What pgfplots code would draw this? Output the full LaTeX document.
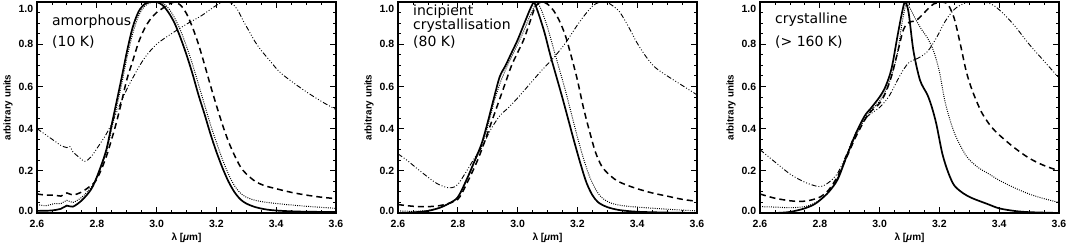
\documentclass[border=0pt]{standalone}
\usepackage{fontspec}
\setmainfont{Liberation Sans}
\newfontfamily\annfont{DejaVu Sans}
\usepackage{pgfplots}
\pgfplotsset{compat=1.18}
\newcommand{\yl}[2]{\raisebox{#1}[0pt][0pt]{#2}}
\pgfplotsset{
  panel/.style={
    scale only axis, width=299pt, height=211pt,
    anchor=south west,
    xmin=2.6, xmax=3.6, ymin=0, ymax=1.0,
    xtick={2.6,2.8,3.0,3.2,3.4,3.6},
    xticklabels={2.6,2.8,3.0,3.2,3.4,3.6},
    ytick={0,0.2,0.4,0.6,0.8,1.0},
    yticklabels={\yl{-1.8pt}{0.0},\yl{-3.7pt}{0.2},\yl{-3.7pt}{0.4},\yl{-3.7pt}{0.6},\yl{-3.7pt}{0.8},\yl{-10.5pt}{1.0}},
    minor x tick num=3, minor y tick num=3,
    xtick pos=both, ytick pos=both,
    tick align=inside,
    major tick length=6pt, minor tick length=3pt,
    every tick/.style={black, line width=0.8pt},
    axis line style={line width=1.4pt},
    ticklabel style={font=\fontsize{10.5}{11}\selectfont\bfseries},
    xticklabel style={yshift=-4pt},
    yticklabel style={xshift=-0.3pt},
    xlabel={λ [\textit{μ}m]},
    xlabel style={at={(axis description cs:0.5,-0.118)}, anchor=center, font=\fontsize{10}{11}\selectfont\bfseries},
    ylabel={arbitrary units},
    ylabel style={at={(axis description cs:-0.097,0.5)}, anchor=center, font=\fontsize{9.8}{10}\selectfont\bfseries},
    clip=true,
  },
  s1/.style={black, line width=1.7pt, smooth, tension=0.5},
  s2/.style={black, line width=1pt, dash pattern=on 0.9pt off 1.3pt, smooth, tension=0.5},
  s3/.style={black, line width=1.5pt, dash pattern=on 6pt off 4pt, smooth, tension=0.5},
  s4/.style={black, line width=0.9pt, dash pattern=on 5pt off 2pt on 0.9pt off 2pt on 0.9pt off 2pt on 0.9pt off 2pt, smooth, tension=0.5},
}
\tikzset{ann/.style={anchor=base west, font=\annfont\fontsize{14}{16}\selectfont, inner sep=0pt}}
\begin{document}
\begin{tikzpicture}[x=1pt,y=1pt]
\useasboundingbox (0,0) rectangle (1067,246);
% ---------------- Panel 1: amorphous
\begin{axis}[panel, at={(37pt,33pt)}]
\addplot[s1] table[row sep=\\]{
2.60 0.010\\ 2.65 0.012\\ 2.68 0.020\\ 2.70 0.035\\ 2.72 0.030\\ 2.75 0.060\\ 2.78 0.110\\ 2.80 0.170\\
2.83 0.290\\ 2.85 0.420\\ 2.88 0.620\\ 2.90 0.760\\ 2.92 0.880\\ 2.94 0.955\\ 2.96 0.990\\ 2.98 1.000\\
3.00 1.000\\ 3.02 0.985\\ 3.04 0.950\\ 3.06 0.900\\ 3.08 0.830\\ 3.10 0.750\\ 3.12 0.660\\ 3.14 0.560\\
3.16 0.470\\ 3.18 0.375\\ 3.20 0.290\\ 3.22 0.215\\ 3.24 0.150\\ 3.26 0.100\\ 3.28 0.065\\ 3.30 0.045\\
3.33 0.028\\ 3.37 0.016\\ 3.42 0.010\\ 3.50 0.006\\ 3.60 0.005\\
};
\addplot[s2] table[row sep=\\]{
2.60 0.040\\ 2.63 0.035\\ 2.66 0.045\\ 2.68 0.045\\ 2.70 0.060\\ 2.72 0.050\\ 2.75 0.075\\ 2.78 0.120\\
2.80 0.170\\ 2.83 0.280\\ 2.85 0.400\\ 2.88 0.590\\ 2.90 0.730\\ 2.92 0.850\\ 2.94 0.935\\ 2.96 0.980\\
2.98 0.997\\ 3.00 1.000\\ 3.02 0.995\\ 3.04 0.970\\ 3.06 0.925\\ 3.08 0.865\\ 3.10 0.790\\ 3.12 0.705\\
3.14 0.610\\ 3.16 0.515\\ 3.18 0.420\\ 3.20 0.335\\ 3.22 0.255\\ 3.24 0.185\\ 3.26 0.130\\ 3.28 0.095\\
3.30 0.075\\ 3.33 0.060\\ 3.37 0.050\\ 3.42 0.042\\ 3.50 0.032\\ 3.60 0.022\\
};
\addplot[s3] table[row sep=\\]{
2.60 0.090\\ 2.63 0.085\\ 2.66 0.085\\ 2.68 0.080\\ 2.70 0.095\\ 2.72 0.085\\ 2.75 0.100\\ 2.78 0.130\\
2.80 0.160\\ 2.83 0.260\\ 2.86 0.400\\ 2.88 0.510\\ 2.90 0.630\\ 2.92 0.720\\ 2.94 0.810\\ 2.96 0.875\\
2.98 0.920\\ 3.00 0.950\\ 3.02 0.970\\ 3.04 0.988\\ 3.06 1.000\\ 3.08 0.985\\ 3.10 0.945\\ 3.12 0.880\\
3.14 0.800\\ 3.16 0.705\\ 3.18 0.605\\ 3.20 0.510\\ 3.22 0.420\\ 3.24 0.340\\ 3.26 0.275\\ 3.28 0.220\\
3.30 0.185\\ 3.33 0.150\\ 3.36 0.130\\ 3.40 0.115\\ 3.45 0.098\\ 3.50 0.085\\ 3.55 0.075\\ 3.60 0.068\\
};
\addplot[s4] table[row sep=\\]{
2.60 0.400\\ 2.63 0.370\\ 2.66 0.340\\ 2.68 0.320\\ 2.70 0.310\\ 2.71 0.315\\ 2.72 0.290\\ 2.74 0.265\\
2.76 0.245\\ 2.78 0.265\\ 2.80 0.305\\ 2.83 0.370\\ 2.85 0.425\\ 2.87 0.490\\ 2.90 0.585\\ 2.93 0.665\\
2.96 0.735\\ 3.00 0.800\\ 3.05 0.850\\ 3.10 0.895\\ 3.15 0.935\\ 3.18 0.965\\ 3.21 0.993\\ 3.23 1.000\\
3.25 0.995\\ 3.27 0.965\\ 3.29 0.910\\ 3.31 0.860\\ 3.33 0.810\\ 3.35 0.770\\ 3.38 0.720\\ 3.41 0.670\\
3.45 0.625\\ 3.50 0.575\\ 3.55 0.530\\ 3.60 0.490\\
};
\node[ann] at (rel axis cs:0.05,0.89) {amorphous};
\node[ann] at (rel axis cs:0.05,0.787) {(10 K)};
\end{axis}
% ---------------- Panel 2: incipient crystallisation
\begin{axis}[panel, at={(398pt,33pt)}]
\addplot[s1] table[row sep=\\]{
2.60 0.000\\ 2.65 0.003\\ 2.70 0.010\\ 2.74 0.025\\ 2.77 0.045\\ 2.80 0.075\\ 2.83 0.160\\ 2.86 0.260\\
2.88 0.330\\ 2.90 0.430\\ 2.92 0.540\\ 2.94 0.645\\ 2.96 0.700\\ 2.98 0.760\\ 3.00 0.820\\ 3.02 0.890\\
3.04 0.960\\ 3.05 0.990\\ 3.055 1.000\\ 3.07 0.945\\ 3.09 0.855\\ 3.11 0.745\\ 3.13 0.645\\ 3.15 0.545\\
3.17 0.440\\ 3.19 0.335\\ 3.21 0.235\\ 3.23 0.145\\ 3.25 0.085\\ 3.27 0.050\\ 3.30 0.028\\ 3.34 0.014\\
3.40 0.006\\ 3.50 0.002\\ 3.60 0.000\\
};
\addplot[s2] table[row sep=\\]{
2.60 0.010\\ 2.65 0.008\\ 2.70 0.012\\ 2.74 0.025\\ 2.77 0.045\\ 2.80 0.075\\ 2.83 0.155\\ 2.86 0.255\\
2.88 0.320\\ 2.90 0.410\\ 2.92 0.520\\ 2.94 0.610\\ 2.96 0.680\\ 2.98 0.740\\ 3.00 0.800\\ 3.02 0.860\\
3.04 0.930\\ 3.06 0.990\\ 3.065 1.000\\ 3.08 0.960\\ 3.10 0.880\\ 3.12 0.780\\ 3.14 0.680\\ 3.16 0.580\\
3.18 0.470\\ 3.20 0.360\\ 3.22 0.260\\ 3.24 0.175\\ 3.26 0.115\\ 3.28 0.075\\ 3.31 0.048\\ 3.35 0.035\\
3.40 0.028\\ 3.50 0.018\\ 3.60 0.010\\
};
\addplot[s3] table[row sep=\\]{
2.60 0.040\\ 2.65 0.032\\ 2.70 0.030\\ 2.75 0.038\\ 2.80 0.065\\ 2.83 0.140\\ 2.86 0.230\\ 2.88 0.300\\
2.90 0.380\\ 2.92 0.460\\ 2.94 0.540\\ 2.96 0.620\\ 2.98 0.700\\ 3.00 0.760\\ 3.02 0.820\\ 3.04 0.900\\
3.06 0.980\\ 3.08 1.000\\ 3.10 0.990\\ 3.12 0.960\\ 3.14 0.910\\ 3.16 0.840\\ 3.18 0.740\\ 3.20 0.630\\
3.22 0.500\\ 3.24 0.390\\ 3.26 0.290\\ 3.28 0.225\\ 3.30 0.190\\ 3.33 0.155\\ 3.36 0.135\\ 3.40 0.115\\
3.45 0.095\\ 3.50 0.080\\ 3.55 0.065\\ 3.60 0.055\\
};
\addplot[s4] table[row sep=\\]{
2.60 0.280\\ 2.63 0.250\\ 2.66 0.215\\ 2.70 0.170\\ 2.73 0.140\\ 2.76 0.122\\ 2.78 0.120\\ 2.80 0.135\\
2.83 0.200\\ 2.86 0.270\\ 2.88 0.310\\ 2.91 0.395\\ 2.94 0.460\\ 2.97 0.500\\ 3.00 0.545\\ 3.04 0.610\\
3.08 0.675\\ 3.12 0.735\\ 3.16 0.805\\ 3.19 0.870\\ 3.22 0.930\\ 3.25 0.980\\ 3.27 0.997\\ 3.29 1.000\\
3.31 0.990\\ 3.34 0.955\\ 3.37 0.885\\ 3.40 0.805\\ 3.43 0.740\\ 3.46 0.690\\ 3.50 0.650\\ 3.55 0.605\\
3.60 0.560\\
};
\node[ann] at (rel axis cs:0.05,0.938) {incipient};
\node[ann] at (rel axis cs:0.05,0.872) {crystallisation};
\node[ann] at (rel axis cs:0.05,0.787) {(80 K)};
\end{axis}
% ---------------- Panel 3: crystalline
\begin{axis}[panel, at={(760pt,33pt)}]
\addplot[s1] table[row sep=\\]{
2.60 0.000\\ 2.65 0.000\\ 2.70 0.005\\ 2.75 0.022\\ 2.78 0.040\\ 2.80 0.060\\ 2.83 0.100\\ 2.86 0.160\\
2.89 0.270\\ 2.92 0.375\\ 2.95 0.460\\ 2.97 0.495\\ 3.00 0.550\\ 3.02 0.600\\ 3.04 0.685\\ 3.06 0.840\\
3.075 0.950\\ 3.085 1.000\\ 3.097 0.950\\ 3.113 0.770\\ 3.135 0.630\\ 3.16 0.560\\ 3.175 0.500\\ 3.19 0.420\\
3.21 0.280\\ 3.23 0.190\\ 3.25 0.130\\ 3.28 0.093\\ 3.31 0.070\\ 3.36 0.043\\ 3.40 0.022\\ 3.45 0.010\\
3.50 0.004\\ 3.60 0.000\\
};
\addplot[s2] table[row sep=\\]{
2.60 0.030\\ 2.65 0.028\\ 2.70 0.025\\ 2.75 0.030\\ 2.78 0.045\\ 2.80 0.062\\ 2.83 0.100\\ 2.86 0.170\\
2.89 0.270\\ 2.92 0.365\\ 2.95 0.445\\ 2.97 0.485\\ 3.00 0.530\\ 3.02 0.580\\ 3.04 0.650\\ 3.06 0.760\\
3.075 0.900\\ 3.09 1.000\\ 3.10 0.975\\ 3.12 0.920\\ 3.14 0.870\\ 3.16 0.830\\ 3.18 0.770\\ 3.20 0.670\\
3.22 0.520\\ 3.25 0.380\\ 3.29 0.270\\ 3.33 0.215\\ 3.36 0.190\\ 3.40 0.155\\ 3.45 0.120\\ 3.50 0.090\\
3.55 0.068\\ 3.60 0.050\\
};
\addplot[s3] table[row sep=\\]{
2.60 0.090\\ 2.65 0.070\\ 2.70 0.058\\ 2.73 0.055\\ 2.76 0.058\\ 2.80 0.075\\ 2.83 0.110\\ 2.86 0.175\\
2.89 0.265\\ 2.92 0.360\\ 2.95 0.440\\ 2.97 0.480\\ 3.00 0.520\\ 3.02 0.570\\ 3.04 0.650\\ 3.06 0.760\\
3.08 0.870\\ 3.10 0.905\\ 3.12 0.910\\ 3.14 0.935\\ 3.16 0.965\\ 3.18 0.990\\ 3.21 1.000\\ 3.23 0.985\\
3.25 0.920\\ 3.27 0.800\\ 3.29 0.670\\ 3.31 0.580\\ 3.34 0.480\\ 3.37 0.415\\ 3.40 0.370\\ 3.45 0.310\\
3.50 0.260\\ 3.55 0.225\\ 3.60 0.200\\
};
\addplot[s4] table[row sep=\\]{
2.60 0.300\\ 2.63 0.265\\ 2.66 0.230\\ 2.70 0.185\\ 2.73 0.160\\ 2.76 0.140\\ 2.80 0.125\\ 2.83 0.145\\
2.86 0.190\\ 2.89 0.280\\ 2.92 0.380\\ 2.95 0.445\\ 2.98 0.480\\ 3.00 0.500\\ 3.03 0.550\\ 3.06 0.630\\
3.08 0.680\\ 3.10 0.715\\ 3.13 0.735\\ 3.16 0.765\\ 3.19 0.830\\ 3.22 0.910\\ 3.25 0.965\\ 3.28 0.992\\
3.31 1.000\\ 3.35 1.000\\ 3.38 0.985\\ 3.41 0.950\\ 3.45 0.890\\ 3.50 0.800\\ 3.55 0.720\\ 3.60 0.640\\
};
\node[ann] at (rel axis cs:0.05,0.896) {crystalline};
\node[ann] at (rel axis cs:0.05,0.787) {(> 160 K)};
\end{axis}
\end{tikzpicture}
\end{document}
